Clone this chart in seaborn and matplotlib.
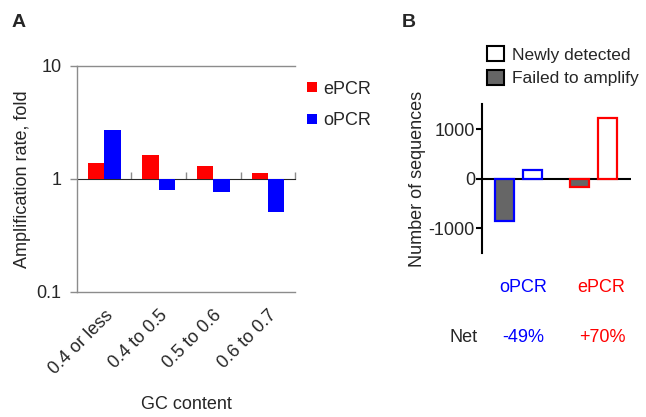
import matplotlib
matplotlib.use("Agg")
import matplotlib.pyplot as plt
from matplotlib.patches import Patch
import seaborn as sns
import pandas as pd
import numpy as np

# Panel A data: amplification rate (fold) by GC content
gc_bins = ["0.4 or less", "0.4 to 0.5", "0.5 to 0.6", "0.6 to 0.7"]
epcr_fold = [1.38, 1.63, 1.30, 1.13]
opcr_fold = [2.72, 0.80, 0.76, 0.51]

# Panel B data: number of sequences
methods = ["oPCR", "ePCR"]
failed_counts = [-860, -160]
newly_counts = [180, 1220]
net_labels = ["-49%", "+70%"]
method_colors = {"oPCR": "#0000ff", "ePCR": "#ff0000"}

sns.set_style("white")
plt.rcParams["font.family"] = ["Liberation Sans", "DejaVu Sans"]
plt.rcParams["font.size"] = 13
plt.rcParams["axes.unicode_minus"] = False

fig = plt.figure(figsize=(6.46, 4.17), dpi=100)

# ---------- Panel A ----------
ax_a = fig.add_axes([0.119, 0.300, 0.338, 0.542])
df_a = pd.DataFrame({
    "gc": gc_bins * 2,
    "method": ["ePCR"] * len(gc_bins) + ["oPCR"] * len(gc_bins),
    "logfold": np.log10(epcr_fold + opcr_fold),
})
sns.barplot(data=df_a, x="gc", y="logfold", hue="method",
            hue_order=["ePCR", "oPCR"], order=gc_bins,
            palette=method_colors, width=0.6, gap=0, saturation=1,
            edgecolor="none", legend=False, ax=ax_a)
ax_a.set_ylim(-1, 1)
ax_a.set_xlim(-0.5, len(gc_bins) - 0.5)
ax_a.set_yticks([-1, 0, 1])
ax_a.set_yticklabels(["0.1", "1", "10"])
ax_a.set_ylabel("Amplification rate, fold", fontsize=13, labelpad=4)
ax_a.set_xlabel("GC content", fontsize=13, labelpad=13)
for s in ["left", "bottom", "top"]:
    ax_a.spines[s].set_color("#8c8c8c")
    ax_a.spines[s].set_linewidth(1.0)
ax_a.spines["right"].set_visible(False)
ax_a.tick_params(axis="y", direction="out", length=5, color="#8c8c8c",
                 width=1.0, left=True, pad=6, labelsize=13)
ax_a.tick_params(axis="x", length=0, pad=11, labelsize=13)
plt.setp(ax_a.get_xticklabels(), rotation=45, ha="right",
         rotation_mode="anchor")

# axis line at fold = 1 with ticks between categories
sec = ax_a.secondary_xaxis(0.5)
sec.set_xticks(np.arange(len(gc_bins)) + 0.5)
sec.set_xticklabels([])
sec.tick_params(direction="out", length=5, color="#8c8c8c", width=1.0)
sec.spines["bottom"].set_color("#8c8c8c")
sec.spines["bottom"].set_linewidth(1.0)

handles_a = [Patch(facecolor=method_colors[m], edgecolor="none", label=m)
             for m in ["ePCR", "oPCR"]]
fig.legend(handles=handles_a, loc="upper left", bbox_to_anchor=(0.462, 0.828),
           frameon=False, handlelength=0.5, handleheight=0.5,
           handletextpad=0.35, labelspacing=0.8, borderpad=0, fontsize=13)

fig.text(0.018, 0.945, "A", fontsize=14, fontweight="bold", va="center")

# ---------- Panel B ----------
ax_b = fig.add_axes([0.746, 0.393, 0.231, 0.357])
df_b = pd.DataFrame({
    "method": methods * 2,
    "kind": ["Failed"] * len(methods) + ["Newly"] * len(methods),
    "count": failed_counts + newly_counts,
})
sns.barplot(data=df_b, x="method", y="count", hue="kind", order=methods,
            hue_order=["Failed", "Newly"],
            palette={"Failed": "#666666", "Newly": "white"},
            width=0.75, gap=0.32, saturation=1, linewidth=1.6,
            legend=False, ax=ax_b)
for cont in ax_b.containers:
    for bar, m in zip(cont, methods):
        bar.set_edgecolor(method_colors[m])
ax_b.set_xlim(-0.49, 1.51)
ax_b.set_ylim(-1500, 1500)
ax_b.set_yticks([-1000, 0, 1000])
ax_b.axhline(0, color="black", linewidth=1.5, zorder=0)
for s in ["top", "right", "bottom"]:
    ax_b.spines[s].set_visible(False)
ax_b.spines["left"].set_color("black")
ax_b.spines["left"].set_linewidth(1.5)
ax_b.tick_params(axis="y", direction="out", length=4, width=1.5,
                 color="black", left=True, pad=1, labelsize=13)
ax_b.set_xticks([])
ax_b.set_xlabel("")
ax_b.set_ylabel("Number of sequences", fontsize=13, labelpad=2)

handles_b = [Patch(facecolor="white", edgecolor="black", linewidth=1.5,
                   label="Newly detected"),
             Patch(facecolor="#666666", edgecolor="black", linewidth=1.5,
                   label="Failed to amplify")]
fig.legend(handles=handles_b, loc="upper left", bbox_to_anchor=(0.741, 0.91),
           frameon=False, handlelength=0.95, handleheight=0.95,
           handletextpad=0.45, labelspacing=0.42, borderpad=0, fontsize=12.5)

fig.text(0.622, 0.945, "B", fontsize=14, fontweight="bold", va="center")

# method names and net change below panel B
for m, xf, net in zip(methods, [0.810, 0.930], net_labels):
    fig.text(xf, 1 - 288 / 417, m, color=method_colors[m], ha="center",
             va="center", fontsize=13)
    fig.text(xf + (0 if m == "oPCR" else 0.003), 1 - 337 / 417, net,
             color=method_colors[m], ha="center", va="center", fontsize=13)
fig.text(0.717, 1 - 337 / 417, "Net", ha="center", va="center", fontsize=13)

fig.savefig("out.png", dpi=100)
